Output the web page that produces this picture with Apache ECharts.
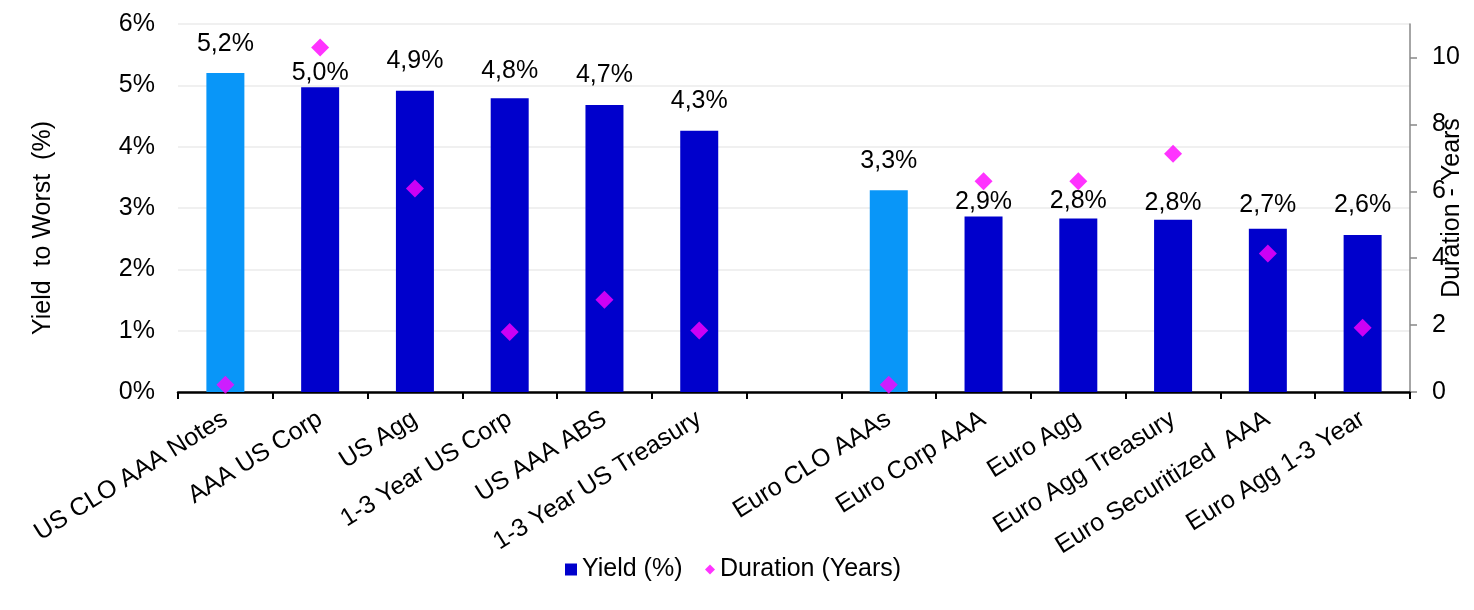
<!DOCTYPE html>
<html><head><meta charset="utf-8">
<script src="https://cdn.jsdelivr.net/npm/echarts/dist/echarts.min.js"></script>
<style>html,body{margin:0;padding:0;background:#fff}#c{width:1474px;height:610px}</style>
</head><body><div id="c"></div>
<script>
// ---- data ----
const categories = ['US CLO AAA Notes','AAA US Corp','US Agg','1-3 Year US Corp','US AAA ABS','1-3 Year US Treasury','','Euro CLO AAAs','Euro Corp AAA','Euro Agg','Euro Agg Treasury','Euro Securitized  AAA','Euro Agg 1-3 Year'];
const yieldPct = [5.20, 4.97, 4.91, 4.79, 4.68, 4.26, null, 3.29, 2.86, 2.83, 2.81, 2.66, 2.56];
const durationYears = [0.22, 10.3, 6.08, 1.79, 2.76, 1.84, null, 0.22, 6.30, 6.30, 7.12, 4.14, 1.92];
const leftTicks = [0, 1, 2, 3, 4, 5, 6];
const rightTicks = [0, 2, 4, 6, 8, 10];
const cloCategories = ['US CLO AAA Notes', 'Euro CLO AAAs'];

// ---- presentation ----
const FONT = "'Liberation Sans', Arial, sans-serif";
const FS = 25;
const labelDistance = [16, 2, 17, 15, 17, 17, 0, 17, 2, 5, 4, 11, 17];
const DARK = '#0000CC', LIGHT = '#0996F8', MAG = '#FF00FF';

const barData = yieldPct.map((v, i) => v == null ? '-' : ({
  value: v,
  itemStyle: { color: cloCategories.includes(categories[i]) ? LIGHT : DARK },
  label: { distance: labelDistance[i] }
}));
const durData = durationYears.map(v => v == null ? '-' : v);

const chart = echarts.init(document.getElementById('c'), null, { renderer: 'canvas' });
chart.setOption({
  animation: false,
  textStyle: { fontFamily: FONT },
  grid: { left: 178, right: 64, top: 24, bottom: 218, containLabel: false, outerBoundsMode: 'none' },
  legend: [
    { data: [{ name: 'Yield (%)', icon: 'rect' }], left: 565, top: 557, padding: 0,
      itemWidth: 12, itemHeight: 12,
      textStyle: { fontSize: FS, color: '#000', fontFamily: FONT } },
    { data: [{ name: 'Duration (Years)', icon: 'diamond' }], left: 705, top: 557, padding: 0,
      itemWidth: 10, itemHeight: 10,
      textStyle: { fontSize: FS, color: '#000', fontFamily: FONT } }
  ],
  xAxis: {
    type: 'category', data: categories, boundaryGap: true,
    axisLine: { lineStyle: { color: '#000', width: 2.5 } },
    axisTick: { show: true, length: 7, lineStyle: { color: '#000', width: 2 } },
    axisLabel: { interval: 0, rotate: 32, margin: 25, fontSize: FS, color: '#000', fontFamily: FONT }
  },
  yAxis: [
    { type: 'value', min: leftTicks[0], max: leftTicks[leftTicks.length - 1], interval: 1,
      name: 'Yield  to Worst  (%)', nameLocation: 'middle', nameGap: 122, nameMoveOverlap: false,
      nameTextStyle: { fontSize: FS, color: '#000', fontFamily: FONT, padding: [0, 40, 0, 0] },
      axisLine: { show: false }, axisTick: { show: false },
      axisLabel: { formatter: '{value}%', fontSize: FS, color: '#000', margin: 23, fontFamily: FONT },
      splitLine: { lineStyle: { color: '#EBEBEB', width: 1.5 } } },
    { type: 'value', min: 0, max: 11, interval: 2, position: 'right',
      name: 'Duration - Years', nameLocation: 'middle', nameGap: 30, nameRotate: 90, nameMoveOverlap: false,
      nameTextStyle: { fontSize: FS, color: '#000', fontFamily: FONT },
      axisLine: { show: true, lineStyle: { color: '#888', width: 1.5 } },
      axisTick: { show: true, inside: false, length: 7, customValues: rightTicks, lineStyle: { color: '#888', width: 1.5 } },
      axisLabel: { customValues: rightTicks, fontSize: FS, color: '#000', margin: 22, fontFamily: FONT },
      splitLine: { show: false } }
  ],
  series: [
    { name: 'Yield (%)', type: 'bar', data: barData, barWidth: 38, yAxisIndex: 0,
      itemStyle: { color: DARK },
      label: { show: true, position: 'top', fontSize: FS, color: '#000', fontFamily: FONT,
        formatter: p => p.value.toFixed(1).replace('.', ',') + '%' } },
    { name: 'Duration (Years)', type: 'scatter', data: durData, yAxisIndex: 1,
      symbol: 'diamond', symbolSize: 18, itemStyle: { color: MAG }, z: 5 }
  ]
});
</script></body></html>
